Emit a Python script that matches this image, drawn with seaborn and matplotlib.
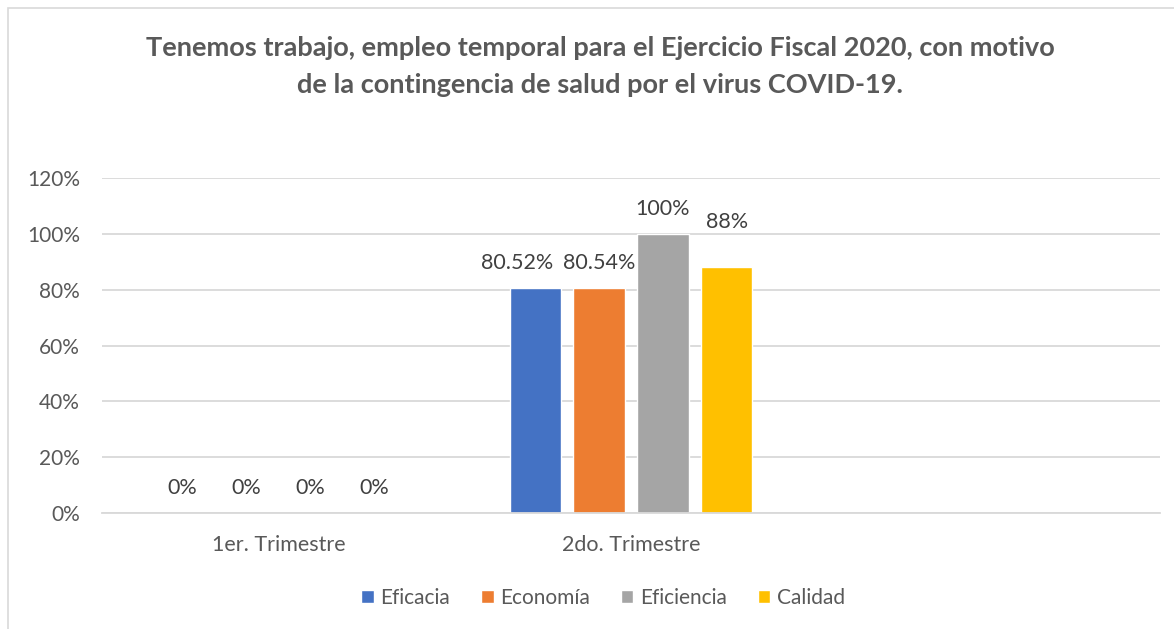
import matplotlib
matplotlib.use('Agg')
import matplotlib.pyplot as plt
from matplotlib.patches import Rectangle
from matplotlib.ticker import FuncFormatter
import pandas as pd
import seaborn as sns

# chart values (fractions)
trimestres = ['1er. Trimestre', '2do. Trimestre']
eficacia = [0.0, 0.8052]
economia = [0.0, 0.8054]
eficiencia = [0.0, 1.0]
calidad = [0.0, 0.88]
series_names = ['Eficacia', 'Economía', 'Eficiencia', 'Calidad']
yticks = [0, 0.2, 0.4, 0.6, 0.8, 1.0, 1.2]

title_lines = ['Tenemos trabajo, empleo temporal para el Ejercicio Fiscal 2020, con motivo',
               'de la contingencia de salud por el virus COVID-19.']

colors = ['#4472C4', '#ED7D31', '#A5A5A5', '#FFC000']

# long-form table for seaborn
rows = []
for name, vals in zip(series_names, [eficacia, economia, eficiencia, calidad]):
    for t, v in zip(trimestres, vals):
        rows.append({'Trimestre': t, 'Indicador': name, 'Valor': v})
df = pd.DataFrame(rows)

sns.set_style('white')
plt.rcParams['font.family'] = ['Lato', 'DejaVu Sans']

fig = plt.figure(figsize=(11.74, 6.29), dpi=100)
ax = fig.add_axes([102 / 1174, (629 - 513) / 629, (1160 - 102) / 1174, (513 - 178) / 629])

sns.barplot(data=df, x='Trimestre', y='Valor', hue='Indicador', order=trimestres,
            hue_order=series_names, palette=colors, width=0.725, gap=0.2,
            saturation=1, errorbar=None, ax=ax, legend=True)

# an empty third slot on the category axis, as in the original chart
ax.set_xlim(-0.5, 2.5)
ax.set_ylim(0, 1.2)
ax.set_yticks(yticks)
ax.yaxis.set_major_formatter(FuncFormatter(lambda v, p: '{:.0f}%'.format(v * 100)))
ax.grid(axis='y', color='#D9D9D9', linewidth=1.3)
ax.set_axisbelow(True)
for s in ['top', 'right', 'left']:
    ax.spines[s].set_visible(False)
ax.spines['bottom'].set_color('#D9D9D9')
ax.spines['bottom'].set_linewidth(1.3)
ax.tick_params(axis='y', length=0, pad=16, labelsize=15, labelcolor='#595959')
ax.tick_params(axis='x', length=0, pad=16, labelsize=15.5, labelcolor='#595959')
ax.set_xlabel('')
ax.set_ylabel('')

# data labels; a few were nudged by hand in the original (offsets in points)
def fmt_pct(v):
    return '{:.2f}'.format(v * 100).rstrip('0').rstrip('.') + '%'

nudge = {(0, 1): (-13, 18), (3, 1): (0, 32.5)}

for i, cont in enumerate(ax.containers):
    for j, bar in enumerate(cont):
        h = bar.get_height()
        dx, dy = nudge.get((i, j), (0, 18))
        ax.annotate(fmt_pct(h), (bar.get_x() + bar.get_width() / 2, h),
                    xytext=(dx, dy), textcoords='offset points',
                    ha='center', va='center', fontsize=15.5, color='#404040')

# legend
handles, labels = ax.get_legend_handles_labels()
ax.legend(handles, labels, loc='center', bbox_to_anchor=(603 / 1174, 1 - 598 / 629),
          bbox_transform=fig.transFigure, ncol=4, frameon=False, fontsize=15,
          handlelength=0.6, handleheight=0.6, handletextpad=0.3, columnspacing=1.5,
          labelcolor='#595959')

# title, one text per line so the line gap matches the original
for k, line in enumerate(title_lines):
    fig.text(600 / 1174, 1 - (48 + 37 * k) / 629, line, ha='center', va='center',
             fontsize=19.5, fontweight='bold', color='#595959')

# chart area frame
fig.patches.append(Rectangle((8 / 1174, -0.1), 1.2, 1 - 8 / 629 + 0.1, transform=fig.transFigure,
                             fill=False, edgecolor='#D9D9D9', linewidth=1.2))

fig.savefig('out.png', dpi=100)
